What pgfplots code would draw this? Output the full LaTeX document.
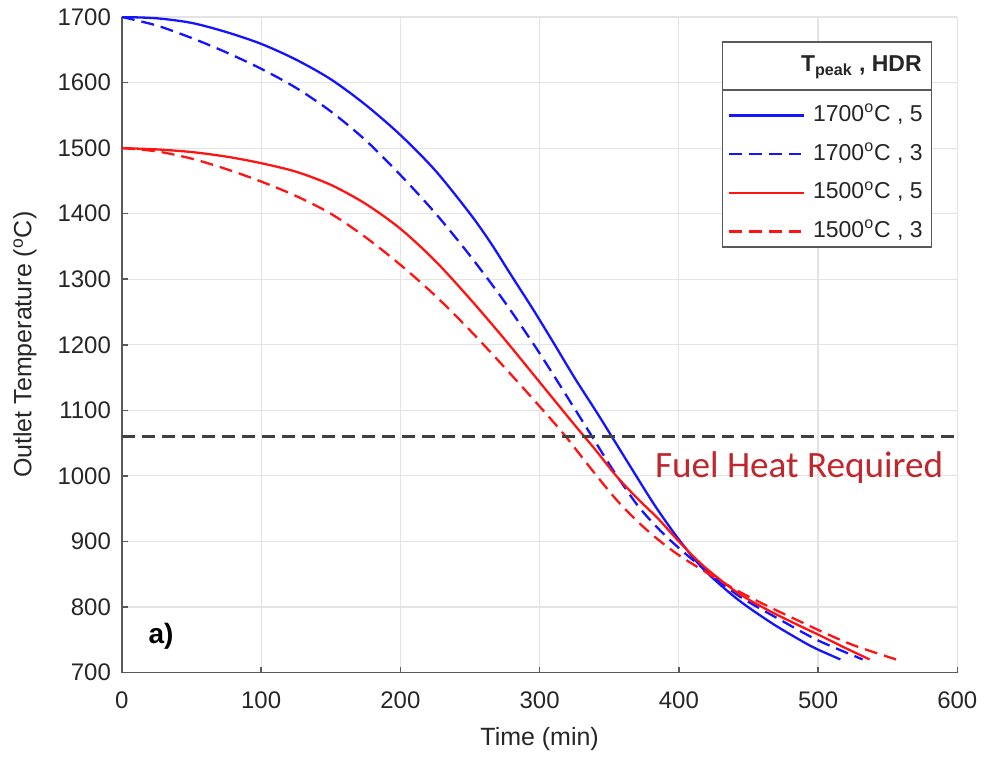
\documentclass[border=0pt]{standalone}
\usepackage{fontspec}
\setmainfont{Liberation Sans}
\newfontfamily\calibri{Carlito}
\usepackage{pgfplots}
\pgfplotsset{compat=1.18}
\definecolor{cBlue}{RGB}{20,20,255}
\definecolor{cRed}{RGB}{255,20,20}
\definecolor{cFuel}{HTML}{C0272D}
\definecolor{cGrid}{HTML}{E3E3E3}
\definecolor{cAxis}{HTML}{5A5A5A}
\definecolor{cText}{HTML}{262626}

% outlet temperature vs time
\pgfplotstableread{
t T
0 1700
25 1698
50 1691
75 1677
100 1659
125 1635
150 1605
175 1566
200 1520
225 1466
250 1400
265 1355
279 1308
295 1255
310 1203
325 1150
341 1097
353 1056
367 1008
383 954
400 903
418 857
442 812
467 775
490 746
500 735
516 720
}\tabBfive
\pgfplotstableread{
t T
0 1700
25 1687
50 1668
75 1646
100 1621
125 1592
150 1556
175 1512
200 1459
225 1401
250 1336
275 1265
300 1187
325 1103
340 1052
353 1008
370 956
385 920
400 890
418 858
443 817
474 779
500 749
532 720
}\tabBthree
\pgfplotstableread{
t T
0 1500
25 1498
50 1494
75 1487
100 1477
125 1464
150 1444
175 1415
200 1377
225 1328
250 1270
275 1208
300 1143
325 1078
340 1040
355 1000
370 966
385 935
400 900
418 862
442 822
466 793
490 768
500 758
520 737
537 720
}\tabRfive
\pgfplotstableread{
t T
0 1500
25 1495
50 1484
75 1468
100 1449
125 1427
150 1400
175 1364
200 1322
225 1275
250 1222
275 1165
300 1106
318 1062
338 1008
355 964
370 931
385 903
400 879
418 855
442 825
466 799
490 775
500 765
525 742
556 720
}\tabRthree

\begin{document}
\begin{tikzpicture}
\begin{axis}[
  width=418pt, height=328pt, scale only axis,
  xmin=0, xmax=600, ymin=700, ymax=1700,
  xtick={0,100,...,600}, ytick={700,800,...,1700},
  axis x line*=bottom, axis y line*=left,
  axis line style={cAxis, line width=0.9pt},
  tick align=inside, major tick length=3pt,
  tick style={cAxis, line width=0.8pt},
  grid=major, major grid style={cGrid, line width=0.6pt},
  ticklabel style={font=\fontsize{12}{14}\selectfont, text=cText},
  /pgf/number format/assume math mode=true,
  /pgf/number format/1000 sep={},
  xticklabel style={yshift=-6pt},
  yticklabel style={xshift=-2pt},
  xlabel={Time (min)},
  ylabel={Outlet Temperature (\textsuperscript{o}C)},
  label style={font=\fontsize{12.5}{14}\selectfont, text=cText},
  xlabel style={at={(axis description cs:0.5,-0.102)}, anchor=center},
  ylabel style={at={(axis description cs:-0.116,0.5)}, anchor=center},
  legend style={draw=none, fill=none, at={(rel axis cs:0.7189,0.8887)},
    anchor=north west, xshift=2.25pt, yshift=-5.85pt,
    font=\fontsize{11.5}{13}\selectfont, text=cText, inner sep=0pt,
    row sep=5.85pt, nodes={inner sep=1.25pt, text height=8.5pt, text depth=2.5pt},
    /tikz/every odd column/.append style={column sep=2.5pt}},
  legend cell align=left,
  legend image code/.code={\draw[#1, line width=1.15pt] (0pt,0pt) -- (38pt,0pt);},
  every axis plot/.append style={line width=1.15pt},
]
\addplot[cBlue, no marks, smooth] table {\tabBfive};
\addlegendentry{1700\textsuperscript{o}C , 5}
\addplot[cBlue, no marks, smooth, dash pattern=on 6.5pt off 3.5pt] table {\tabBthree};
\addlegendentry{1700\textsuperscript{o}C , 3}
\addplot[cRed, no marks, smooth] table {\tabRfive};
\addlegendentry{1500\textsuperscript{o}C , 5}
\addplot[cRed, no marks, smooth, dash pattern=on 6.5pt off 3.5pt] table {\tabRthree};
\addlegendentry{1500\textsuperscript{o}C , 3}
\addplot[black!75, no marks, line width=1.3pt, dash pattern=on 6.5pt off 3.5pt, forget plot]
  coordinates {(0,1060) (600,1060)};

\node[anchor=base west, inner sep=0pt, text=cFuel, font=\calibri\fontsize{18.6}{20}\selectfont]
  at (axis cs:382.6,997) {Fuel Heat Required};
\node[anchor=base west, inner sep=0pt, text=black, font=\bfseries\fontsize{14}{16}\selectfont]
  at (axis cs:18.9,745) {a)};

% legend frame with title row
\draw[cAxis, fill=white, line width=0.7pt] (rel axis cs:0.7189,0.6494) rectangle (rel axis cs:0.9689,0.9619);
\draw[cAxis, line width=0.7pt] (rel axis cs:0.7189,0.8887) -- (rel axis cs:0.9689,0.8887);
\node[anchor=base east, inner sep=0pt, text=cText, font=\bfseries\fontsize{11.5}{13}\selectfont]
  at (rel axis cs:0.9578,0.9166) {T\textsubscript{peak} , HDR};

\coordinate (bl) at (rel axis cs:0,0);
\coordinate (tr) at (rel axis cs:1,1);
\end{axis}
\path ([shift={(-61pt,-41.5pt)}]bl) rectangle ([shift={(13pt,8.5pt)}]tr);
\end{tikzpicture}
\end{document}
